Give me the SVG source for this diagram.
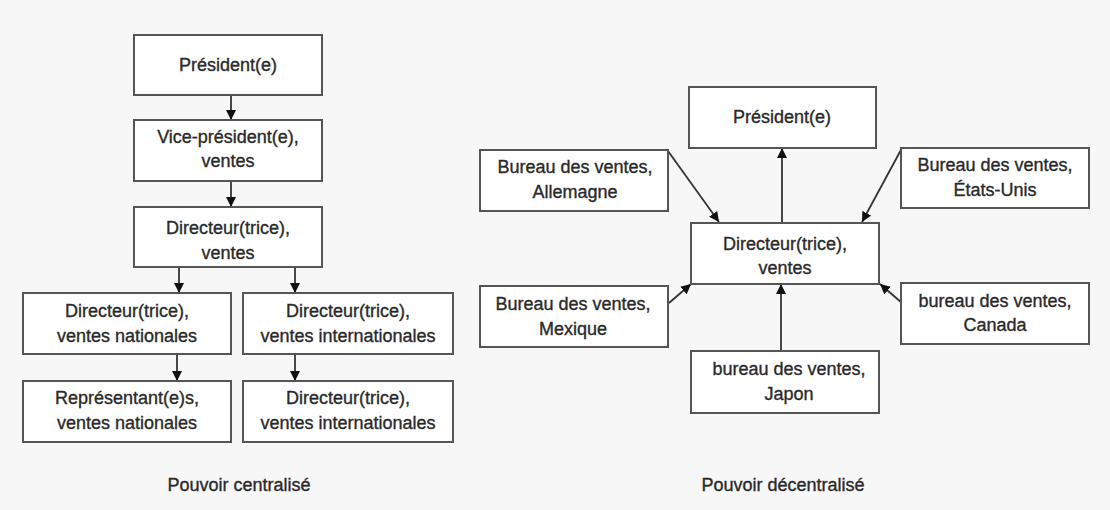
<svg xmlns="http://www.w3.org/2000/svg" width="1110" height="510" viewBox="0 0 1110 510">
<defs>
<style>
.box{fill:#fff;stroke:#555;stroke-width:2}
.t{font-family:"Liberation Sans",Arial,sans-serif;font-size:18px;fill:#2a2a2a;stroke:#2a2a2a;stroke-width:0.35;text-anchor:middle}
.c{stroke:#333;stroke-width:1.8;fill:none;marker-end:url(#ah)}
</style>
<marker id="ah" viewBox="0 0 10 10" refX="10" refY="5" markerWidth="10" markerHeight="10" markerUnits="userSpaceOnUse" orient="auto">
<path d="M0,0 L10,5 L0,10 z" fill="#111"/>
</marker>
</defs>
<rect width="1110" height="510" fill="#f7f7f7"/>
<g id="connectors">
<line class="c" x1="231" y1="95" x2="231" y2="120"/>
<line class="c" x1="231" y1="181" x2="231" y2="207"/>
<line class="c" x1="179" y1="267" x2="179" y2="293"/>
<line class="c" x1="295" y1="267" x2="295" y2="293"/>
<line class="c" x1="177" y1="354" x2="177" y2="381"/>
<line class="c" x1="295" y1="354" x2="295" y2="381"/>
<line class="c" x1="782" y1="223" x2="782" y2="148"/>
<line class="c" x1="668" y1="151" x2="719" y2="222"/>
<line class="c" x1="902" y1="148" x2="862" y2="222"/>
<line class="c" x1="669" y1="303" x2="691" y2="284"/>
<line class="c" x1="902" y1="303" x2="880" y2="284"/>
<line class="c" x1="781" y1="351" x2="781" y2="284"/>
</g>
<g id="c-president">
<rect class="box" x="134" y="35" width="188" height="60"/>
<text class="t" x="228" y="71">Président(e)</text>
</g>
<g id="c-vp">
<rect class="box" x="134" y="120" width="188" height="61"/>
<text class="t" x="228" y="143">Vice-président(e),</text>
<text class="t" x="228" y="167">ventes</text>
</g>
<g id="c-dir">
<rect class="box" x="134" y="207" width="188" height="60"/>
<text class="t" x="228" y="234">Directeur(trice),</text>
<text class="t" x="228" y="259">ventes</text>
</g>
<g id="c-dir-nat">
<rect class="box" x="23" y="293" width="208" height="61"/>
<text class="t" x="127" y="317">Directeur(trice),</text>
<text class="t" x="127" y="342">ventes nationales</text>
</g>
<g id="c-dir-int">
<rect class="box" x="243" y="293" width="210" height="61"/>
<text class="t" x="348" y="317">Directeur(trice),</text>
<text class="t" x="348" y="342">ventes internationales</text>
</g>
<g id="c-rep-nat">
<rect class="box" x="23" y="381" width="208" height="61"/>
<text class="t" x="127" y="404">Représentant(e)s,</text>
<text class="t" x="127" y="429">ventes nationales</text>
</g>
<g id="c-dir-int2">
<rect class="box" x="243" y="381" width="210" height="61"/>
<text class="t" x="348" y="404">Directeur(trice),</text>
<text class="t" x="348" y="429">ventes internationales</text>
</g>
<text class="t" x="239" y="491">Pouvoir centralisé</text>
<g id="d-president">
<rect class="box" x="689" y="87" width="187" height="61"/>
<text class="t" x="782" y="123">Président(e)</text>
</g>
<g id="d-allemagne">
<rect class="box" x="480" y="150" width="188" height="61"/>
<text class="t" x="575" y="173">Bureau des ventes,</text>
<text class="t" x="575" y="198">Allemagne</text>
</g>
<g id="d-usa">
<rect class="box" x="901" y="148" width="188" height="60"/>
<text class="t" x="995" y="171">Bureau des ventes,</text>
<text class="t" x="995" y="196">États-Unis</text>
</g>
<g id="d-dir">
<rect class="box" x="691" y="223" width="188" height="61"/>
<text class="t" x="785" y="250">Directeur(trice),</text>
<text class="t" x="785" y="274">ventes</text>
</g>
<g id="d-mexique">
<rect class="box" x="480" y="286" width="188" height="61"/>
<text class="t" x="573" y="310">Bureau des ventes,</text>
<text class="t" x="573" y="335">Mexique</text>
</g>
<g id="d-canada">
<rect class="box" x="901" y="283" width="188" height="61"/>
<text class="t" x="995" y="307">bureau des ventes,</text>
<text class="t" x="995" y="331">Canada</text>
</g>
<g id="d-japon">
<rect class="box" x="691" y="351" width="188" height="62"/>
<text class="t" x="789" y="375">bureau des ventes,</text>
<text class="t" x="789" y="400">Japon</text>
</g>
<text class="t" x="783" y="491">Pouvoir décentralisé</text>
</svg>
